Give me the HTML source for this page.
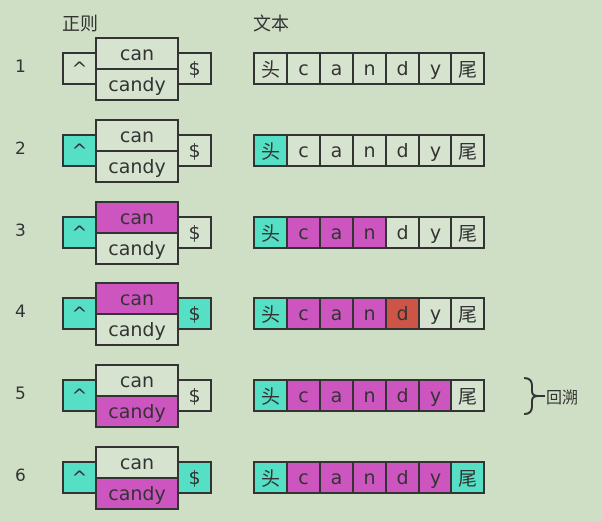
<!DOCTYPE html>
<html><head><meta charset="utf-8">
<style>
html,body{margin:0;padding:0;}
body{width:602px;height:521px;background:#cfdfc5;position:relative;overflow:hidden;font-family:"DejaVu Sans","Liberation Sans","Noto Sans CJK SC",sans-serif;color:#333;}
.b{position:absolute;box-sizing:border-box;border:2px solid #333;display:flex;align-items:center;justify-content:center;font-size:19px;}
.t{position:absolute;font-size:18px;}
</style></head><body>
<div class="t" style="left:62px;top:10px;font-family:'Noto Sans CJK SC',sans-serif;">正则</div>
<div class="t" style="left:253px;top:10px;font-family:'Noto Sans CJK SC',sans-serif;">文本</div>
<svg style="position:absolute;left:518px;top:375px" width="30" height="42">
<path d="M6 3 Q14 3 14 11 L14 16 Q14 21 20 21 Q14 21 14 26 L14 31 Q14 39 6 39 M20 21 L27 21" fill="none" stroke="#333" stroke-width="2"/>
</svg>
<div class="t" style="left:546px;top:384px;font-size:16px;font-family:'Noto Sans CJK SC',sans-serif;">回溯</div>
<script>
const textChars=['头','c','a','n','d','y','尾'];
// per step: regex states [^, can, candy, $] and text cell states; 0=none,1=teal,2=magenta,3=red
const regexStates=[[0,0,0,0],[1,0,0,0],[1,2,0,0],[1,2,0,1],[1,0,2,0],[1,0,2,1]];
const textStates=[
[0,0,0,0,0,0,0],
[1,0,0,0,0,0,0],
[1,2,2,2,0,0,0],
[1,2,2,2,3,0,0],
[1,2,2,2,2,2,0],
[1,2,2,2,2,2,1]];
const colors=['#d6e3cf','#55e0c6','#cc55c0','#cc5548'];
const y0=68, dy=81.8, cw=32.9;
function box(x,y,w,h,txt,c,name,cjk){
 const d=document.createElement('div');d.className='b';
 
 
 d.style.cssText=`left:${x}px;top:${y}px;width:${w}px;height:${h}px;background:${colors[c]};`+(cjk?"font-family:'Noto Sans CJK SC',sans-serif;":"");
 d.textContent=txt;document.body.appendChild(d);
}
regexStates.forEach((s,i)=>{
 const cy=Math.round(y0+i*dy);
 const n=document.createElement('div');n.className='t';
 
 
 n.style.cssText=`left:15px;top:${cy-11}px;font-size:17px;`;n.textContent=String(i+1);document.body.appendChild(n);
 box(62,cy-16,35,33,'^',s[0],'caret-box');
 box(95,cy-31,84,33,'can',s[1],'can-box');
 box(95,cy,84,33,'candy',s[2],'candy-box');
 box(177,cy-16,35,33,'$',s[3],'dollar-box');
 textStates[i].forEach((c,j)=>{
  box(Math.round(253+j*cw),cy-16,Math.round(cw)+2,33,textChars[j],c,'text-cell',j==0||j==6);
 });
});
</script>
</body></html>
